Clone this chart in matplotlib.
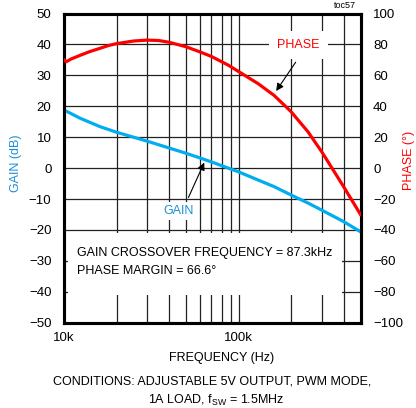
import matplotlib
matplotlib.use('Agg')
import matplotlib.pyplot as plt
from matplotlib import font_manager
from matplotlib.ticker import FixedLocator, NullFormatter
from matplotlib.patches import Rectangle

# data (frequency in kHz)
gain_f = [10, 12.4, 16.1, 20, 30, 40, 50, 60, 70, 87.3, 100, 130, 160, 200, 250, 300, 400, 500]
gain_db = [18.8, 16.1, 13.4, 11.6, 8.7, 6.5, 4.8, 3.3, 2.0, 0.0, -1.2, -3.9, -6.0, -8.7, -11.3, -13.6, -17.3, -20.6]

phase_f = [10, 10.3, 11, 12.4, 14, 16.1, 18, 20, 25, 30, 35, 40, 50, 60, 70, 87.3,
           100, 130, 160, 200, 250, 300, 350, 400, 450, 500]
phase_deg = [70.0, 68.8, 70.6, 73.0, 75.3, 77.5, 79.3, 80.5, 82.2, 82.8, 82.5, 81.4, 78.5, 75.2, 72.2, 66.6,
             62.5, 54.5, 47.0, 36.5, 23.5, 10.5, -1.5, -12.0, -21.5, -30.0]

gain_ticks = [50, 40, 30, 20, 10, 0, -10, -20, -30, -40, -50]
phase_ticks = [100, 80, 60, 40, 20, 0, -20, -40, -60, -80, -100]
x_major = [10e3, 100e3]
x_major_labels = ['10k', '100k']
x_minor = [20e3, 30e3, 40e3, 50e3, 60e3, 70e3, 80e3, 90e3, 200e3, 300e3, 400e3]

names = {f.name for f in font_manager.fontManager.ttflist}
narrow = 'Liberation Sans Narrow' if 'Liberation Sans Narrow' in names else 'Liberation Sans'
plt.rcParams['font.family'] = [narrow, 'DejaVu Sans']
plt.rcParams['mathtext.fontset'] = 'custom'
plt.rcParams['mathtext.rm'] = narrow
plt.rcParams['mathtext.it'] = narrow

BLUE_LINE = '#00aeef'
BLUE_TXT = '#1b8fd8'
RED = '#ff0000'
FS = 9
TICK_FS = 9.5

fig = plt.figure(figsize=(4.16, 4.08), dpi=100)
ax = fig.add_axes([0.1538, 0.2091, 0.7128, 0.7578])
ax.set_xscale('log')
ax.set_xlim(10e3, 500e3)
ax.set_ylim(-50, 50)
ax.set_yticks(gain_ticks)
ax.xaxis.set_major_locator(FixedLocator(x_major))
ax.set_xticklabels(x_major_labels)
ax.xaxis.set_minor_locator(FixedLocator(x_minor))
ax.xaxis.set_minor_formatter(NullFormatter())
ax.grid(True, which='both', color='#222222', lw=0.9)
ax.tick_params(which='both', length=0, labelsize=TICK_FS)
ax.tick_params(axis='y', pad=9)
ax.tick_params(axis='x', pad=7)
for s in ax.spines.values():
    s.set_linewidth(2.2)

# white area behind the annotation text
ax.add_patch(Rectangle((0.0135, 0.09), 0.924, 0.2, transform=ax.transAxes,
                       facecolor='white', edgecolor='none', zorder=2.5))

ax.plot([f * 1e3 for f in gain_f], gain_db, color=BLUE_LINE, lw=2.3, zorder=4)

ax2 = ax.twinx()
ax2.set_ylim(-100, 100)
ax2.set_yticks(phase_ticks)
ax2.tick_params(length=0, labelsize=TICK_FS, pad=9)
for s in ax2.spines.values():
    s.set_linewidth(2.2)
ax2.plot([f * 1e3 for f in phase_f], phase_deg, color=RED, lw=2.3, zorder=4)

ax.set_ylabel('GAIN (dB)', color=BLUE_TXT, fontsize=FS)
ax.yaxis.set_label_coords(-0.142, 0.516)
ax2.set_ylabel('PHASE (°)', color=RED, fontsize=FS)
ax2.yaxis.set_label_coords(1.143, 0.526)

ax.text(0.045, 0.225, 'GAIN CROSSOVER FREQUENCY = 87.3kHz', transform=ax.transAxes,
        fontsize=FS, va='center', ha='left', zorder=5)
ax.text(0.045, 0.167, 'PHASE MARGIN = 66.6°', transform=ax.transAxes,
        fontsize=FS, va='center', ha='left', zorder=5)

ax.annotate('', xy=(64.6e3, 2.6), xytext=(50.9e3, -10.3),
            arrowprops=dict(arrowstyle='-|>', color='black', lw=0.8, mutation_scale=11), zorder=5)
ax.text(45.2e3, -13.9, 'GAIN', color=BLUE_TXT, fontsize=FS, ha='center', va='center', zorder=5,
        bbox=dict(facecolor='white', edgecolor='none', pad=2))
ax2.annotate('', xy=(161e3, 48.4), xytext=(217e3, 70),
             arrowprops=dict(arrowstyle='-|>', color='black', lw=0.8, mutation_scale=11), zorder=5)
ax2.text(221e3, 79.6, 'PHASE', color=RED, fontsize=FS, ha='center', va='center', zorder=5,
         bbox=dict(facecolor='white', edgecolor='none', pad=6))

fig.text(222 / 416, 1 - 358 / 408, 'FREQUENCY (Hz)', fontsize=FS, ha='center', va='center')
fig.text(212 / 416, 1 - 382 / 408, 'CONDITIONS: ADJUSTABLE 5V OUTPUT, PWM MODE,',
         fontsize=FS, ha='center', va='center')
fig.text(216 / 416, 1 - 400 / 408, '1A LOAD, f$_{\\mathrm{SW}}$ = 1.5MHz',
         fontsize=FS, ha='center', va='center')
fig.text(345 / 416, 1 - 6 / 408, 'toc57', fontsize=6.5, ha='center', va='center')

fig.savefig('out.png', dpi=100)
